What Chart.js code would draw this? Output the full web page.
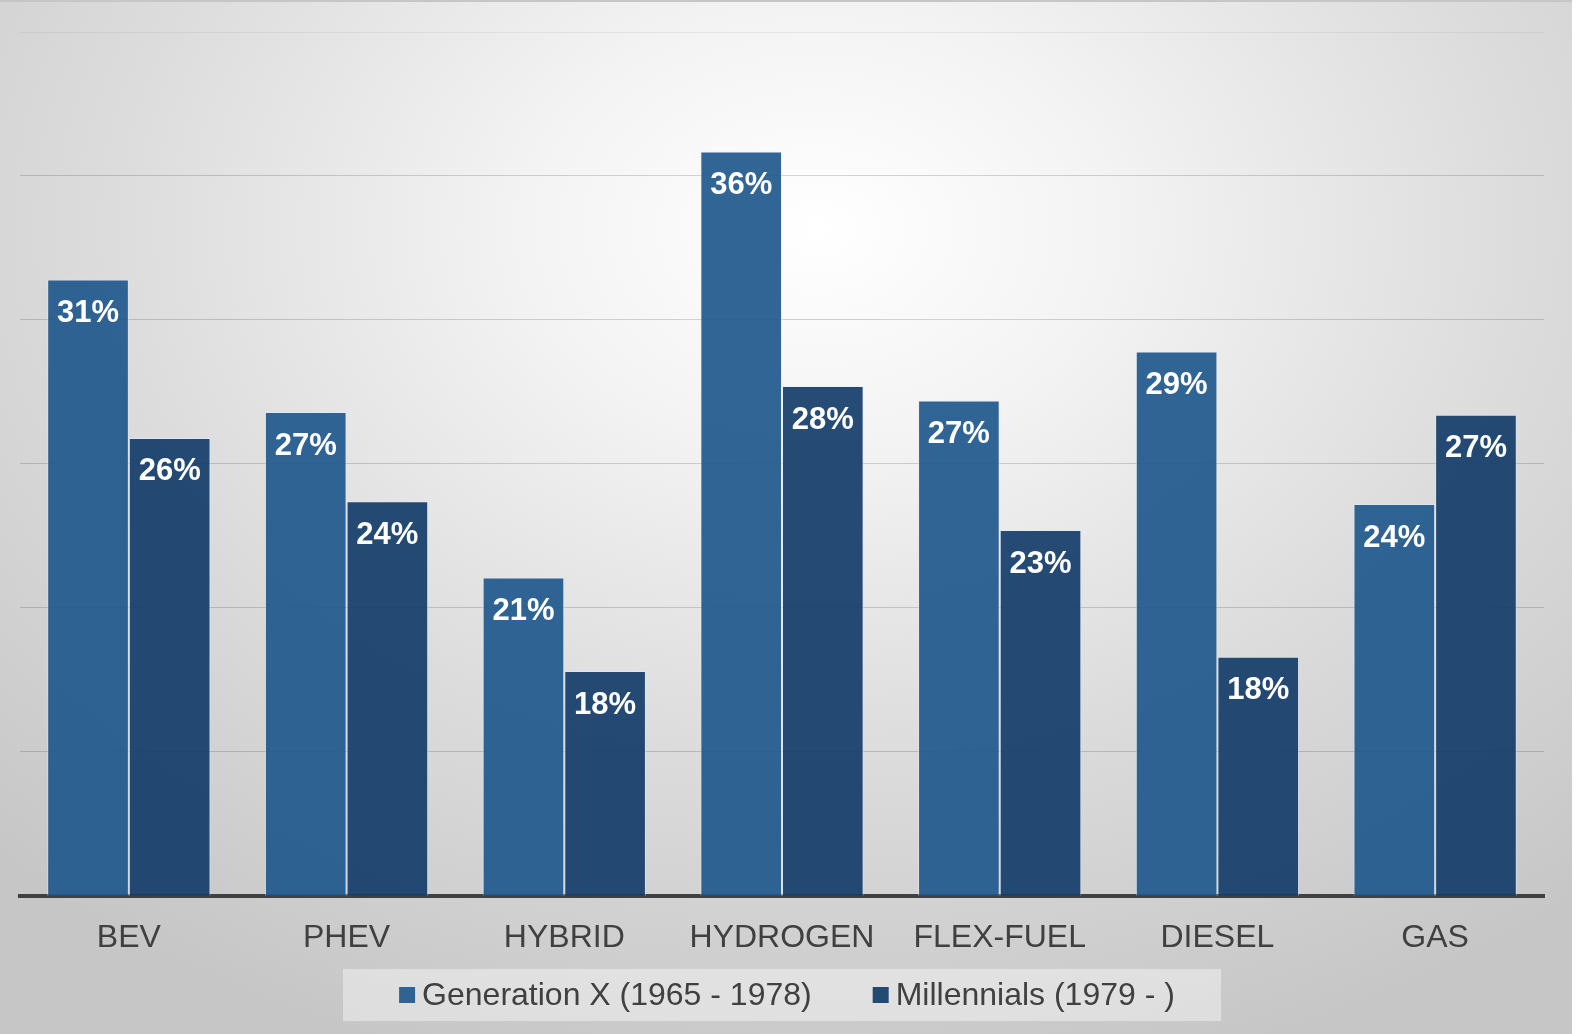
<!DOCTYPE html>
<html>
<head>
<meta charset="utf-8">
<script src="https://cdn.jsdelivr.net/npm/chart.js@4"></script>
<style>
  html, body { margin: 0; padding: 0; background: #ffffff; }
  #wrap {
    position: absolute; left: 0; top: 0; width: 1584px; height: 1034px;
  }
  #bg {
    position: absolute; left: 0; top: 0; width: 1572px; height: 1032px;
    border-top: 2px solid #c6c6c6;
    background: radial-gradient(ellipse 75% 85% at 52% 22%, #ffffff 0%, #f3f3f3 25%, #dcdcdc 60%, #c6c6c6 100%);
  }
  canvas { position: absolute; left: 0; top: 0; }
</style>
</head>
<body>
<div id="wrap">
  <div id="bg"></div>
  <canvas id="fuelChart" width="1584" height="1034"></canvas>
</div>
<script>
// kategóriák és értékek (százalék)
const categories = ['BEV', 'PHEV', 'HYBRID', 'HYDROGEN', 'FLEX-FUEL', 'DIESEL', 'GAS'];
const genX = [31.4, 26.8, 21.05, 35.85, 27.2, 28.9, 23.6];
const millennials = [25.9, 23.7, 17.8, 27.7, 22.7, 18.3, 26.7];
const seriesNames = ['Generation X (1965 - 1978)', 'Millennials (1979 - )'];

const FONT = '"Liberation Sans", Arial, sans-serif';

// felirat a oszlopok tetején
const barLabels = {
    id: 'barLabels',
    afterDatasetsDraw(chart) {
        const ctx = chart.ctx;
        ctx.save();
        ctx.font = 'bold 31px ' + FONT;
        ctx.fillStyle = '#ffffff';
        ctx.textAlign = 'center';
        ctx.textBaseline = 'middle';
        chart.data.datasets.forEach((ds, i) => {
            chart.getDatasetMeta(i).data.forEach((bar, j) => {
                ctx.fillText(Math.round(ds.data[j]) + '%', bar.x, bar.y + 34);
            });
        });
        ctx.restore();
    }
};

// saját jelmagyarázat háttérrel
const boxLegend = {
    id: 'boxLegend',
    afterDraw(chart) {
        const ctx = chart.ctx;
        const area = chart.chartArea;
        const cx = (area.left + area.right) / 2;
        const cy = 995;
        ctx.save();
        ctx.fillStyle = 'rgba(255,255,255,0.4)';
        ctx.fillRect(cx - 439, cy - 26, 878, 52);

        ctx.font = '32px ' + FONT;
        const box = 16, gap = 7, between = 61;
        const widths = chart.data.datasets.map(ds => ctx.measureText(ds.label).width);
        let total = 0;
        widths.forEach((w, i) => { total += box + gap + w + (i ? between : 0); });
        let x = cx + 5 - total / 2;
        ctx.textBaseline = 'middle';
        ctx.textAlign = 'left';
        chart.data.datasets.forEach((ds, i) => {
            ctx.fillStyle = ds.legendColor;
            ctx.fillRect(x, cy - box / 2, box, box);
            ctx.fillStyle = '#404040';
            ctx.fillText(ds.label, x + box + gap, cy + 1);
            x += box + gap + widths[i] + between;
        });
        ctx.restore();
    }
};

const ctx = document.getElementById('fuelChart').getContext('2d');
new Chart(ctx, {
    type: 'bar',
    data: {
        labels: categories,
        datasets: [
            {
                label: seriesNames[0],
                data: genX,
                backgroundColor: 'rgba(31,88,140,0.92)',
                borderColor: 'rgba(225,235,245,0.55)',
                borderWidth: 1,
                legendColor: '#2e6393'
            },
            {
                label: seriesNames[1],
                data: millennials,
                backgroundColor: 'rgba(19,61,106,0.92)',
                borderColor: 'rgba(225,235,245,0.55)',
                borderWidth: 1,
                legendColor: '#234a73'
            }
        ]
    },
    options: {
        responsive: false,
        animation: false,
        layout: { padding: { left: 20, right: 40, top: 32, bottom: 54 } },
        datasets: { bar: { categoryPercentage: 0.75, barPercentage: 1.0 } },
        plugins: {
            legend: { display: false },
            tooltip: { enabled: false }
        },
        scales: {
            x: {
                grid: { display: false, drawTicks: false },
                border: { display: true, color: '#404040', width: 4 },
                ticks: {
                    color: '#404040',
                    padding: 23,
                    font: { family: FONT, size: 32 }
                }
            },
            y: {
                min: 10,
                max: 40,
                ticks: { display: false, stepSize: 5 },
                grid: {
                    drawTicks: false,
                    color: c => c.tick && c.tick.value === 40 ? 'rgba(0,0,0,0.06)' : 'rgba(0,0,0,0.16)',
                    lineWidth: 1
                },
                border: { display: false }
            }
        }
    },
    plugins: [barLabels, boxLegend]
});
</script>
</body>
</html>
